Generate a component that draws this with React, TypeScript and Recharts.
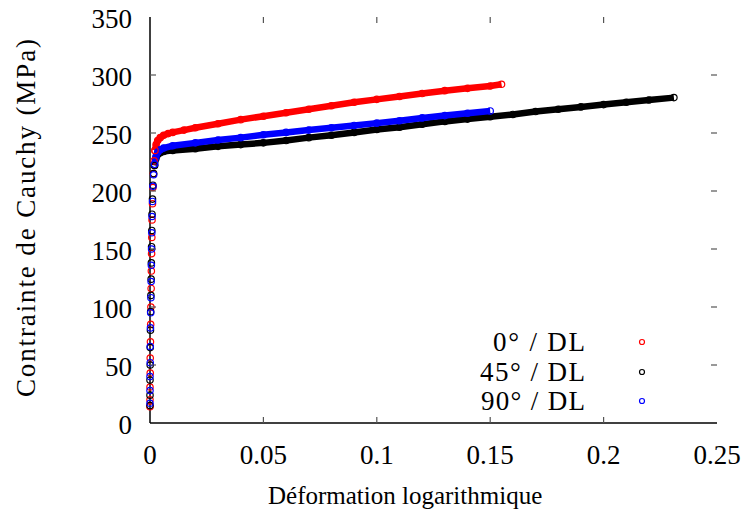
import { ScatterChart, Scatter, XAxis, YAxis } from 'recharts';

type Pt = [number, number];

// strain, Cauchy stress (MPa)
const elastic0: Pt[] = [
  [0, 14], [0, 20], [0, 31], [0.0001, 43], [0.0001, 56], [0.0002, 70], [0.0003, 85], [0.0004, 100],
  [0.0005, 116], [0.0006, 131], [0.0007, 146], [0.0008, 160], [0.0009, 175], [0.0011, 189],
  [0.0013, 203], [0.0015, 215], [0.0018, 226], [0.0022, 235],
];
const plastic0: Pt[] = [
  [0.0022, 235], [0.0027, 240], [0.0034, 243.5], [0.0045, 246], [0.006, 248], [0.008, 249.5],
  [0.01, 250.5], [0.015, 252.5], [0.02, 254.5], [0.03, 258], [0.04, 261.5], [0.05, 264.5],
  [0.06, 267.5], [0.07, 270.5], [0.08, 273.5], [0.09, 276.5], [0.1, 279], [0.11, 281.5],
  [0.12, 284], [0.13, 286.5], [0.14, 288.5], [0.15, 290.5], [0.155, 292],
];
const elastic45: Pt[] = [
  [0, 15], [0, 24], [0, 37], [0.0001, 50], [0.0001, 65], [0.0002, 80], [0.0003, 96], [0.0004, 110],
  [0.0005, 124], [0.0006, 138], [0.0007, 152], [0.0008, 166], [0.0009, 180], [0.0011, 193],
  [0.0013, 205], [0.0016, 215], [0.002, 222],
];
const plastic45: Pt[] = [
  [0.002, 222], [0.0026, 228], [0.0034, 231.5], [0.0045, 233], [0.006, 234], [0.01, 235],
  [0.02, 236.5], [0.03, 238.5], [0.04, 240], [0.05, 241.5], [0.06, 243.5], [0.07, 246],
  [0.08, 248], [0.09, 250.5], [0.1, 253], [0.11, 255], [0.12, 257.5], [0.13, 260], [0.14, 262],
  [0.15, 264], [0.16, 266], [0.17, 268.5], [0.18, 270.5], [0.19, 272.5], [0.2, 274.5],
  [0.21, 276.5], [0.22, 278.5], [0.231, 280.5],
];
const elastic90: Pt[] = [
  [0, 17], [0, 28], [0, 40], [0.0001, 52], [0.0001, 66], [0.0002, 82], [0.0003, 95], [0.0004, 108],
  [0.0005, 122], [0.0006, 136], [0.0007, 150], [0.0008, 164], [0.0009, 178], [0.0011, 191],
  [0.0013, 204], [0.0016, 214], [0.002, 223],
];
const plastic90: Pt[] = [
  [0.002, 223], [0.0026, 229.5], [0.0034, 233.5], [0.0045, 235.5], [0.006, 237], [0.01, 239],
  [0.02, 241.5], [0.03, 244], [0.04, 246], [0.05, 248.5], [0.06, 250.5], [0.07, 252.5],
  [0.08, 254.5], [0.09, 256.5], [0.1, 258.5], [0.11, 260.5], [0.12, 263], [0.13, 265],
  [0.14, 267], [0.15, 269],
];

const xTicks = [0, 0.05, 0.1, 0.15, 0.2, 0.25];
const yTicks = [0, 50, 100, 150, 200, 250, 300, 350];
const xTickLabels = ['0', '0.05', '0.1', '0.15', '0.2', '0.25'];

const series = [
  { name: '0° / DL', color: '#ff0000', elastic: elastic0, plastic: plastic0 },
  { name: '45° / DL', color: '#000000', elastic: elastic45, plastic: plastic45 },
  { name: '90° / DL', color: '#0000ff', elastic: elastic90, plastic: plastic90 },
];

const W = 749;
const H = 518;
const PL = 150;
const PR = 717;
const PT = 17;
const PB = 423;
const FONT = '"Liberation Serif", "Times New Roman", serif';
const FS = 27;
const TICK = '#555';

// only used to place the mirrored tick marks on the frame
const sx = (v: number) => PL + (v / 0.25) * (PR - PL);
const sy = (v: number) => PB - (v / 350) * (PB - PT);

const toObj = (pts: Pt[]) => pts.map(([x, y]) => ({ x, y }));

const ring = (color: string) => (p: any) => (
  <circle cx={p.cx} cy={p.cy} r={3.2} fill="none" stroke={color} strokeWidth={1.2} />
);

function XTick({ x, payload }: any) {
  const i = xTicks.indexOf(payload.value);
  return (
    <text x={x} y={PB + 41} textAnchor="middle" fontFamily={FONT} fontSize={FS} fill="#000">
      {i >= 0 ? xTickLabels[i] : payload.value}
    </text>
  );
}

function YTick({ y, payload }: any) {
  return (
    <text x={PL - 18} y={y + 11} textAnchor="end" fontFamily={FONT} fontSize={FS} fill="#000">
      {payload.value}
    </text>
  );
}

export default function App() {
  const legendY = [342, 372, 401];
  const legendLen = [92, 105, 104];
  return (
    <div style={{ position: 'absolute', left: 0, top: 0, width: W, height: H, background: '#fff' }}>
      <ScatterChart width={W} height={H} margin={{ top: PT, right: W - PR, bottom: 0, left: 0 }}>
        <XAxis
          xAxisId="b"
          type="number"
          dataKey="x"
          domain={[0, 0.25]}
          ticks={xTicks}
          height={H - PB}
          tickLine={false}
          axisLine={{ stroke: '#000', strokeWidth: 1.5 }}
          tick={<XTick />}
        />
        <XAxis
          xAxisId="t"
          orientation="top"
          type="number"
          dataKey="x"
          domain={[0, 0.25]}
          height={0}
          tick={false}
          tickLine={false}
          axisLine={{ stroke: '#000', strokeWidth: 1.5 }}
        />
        <YAxis
          yAxisId="l"
          type="number"
          dataKey="y"
          domain={[0, 350]}
          ticks={yTicks}
          width={PL}
          tickLine={false}
          axisLine={{ stroke: '#000', strokeWidth: 1.5 }}
          tick={<YTick />}
        />
        <YAxis
          yAxisId="r"
          orientation="right"
          type="number"
          dataKey="y"
          domain={[0, 350]}
          width={0}
          tick={false}
          tickLine={false}
          axisLine={{ stroke: '#000', strokeWidth: 1.5 }}
        />
        {series.map((s) => (
          <Scatter
            key={s.name + 'p'}
            xAxisId="b"
            yAxisId="l"
            data={toObj(s.plastic)}
            line={{ stroke: s.color, strokeWidth: 6.5 }}
            lineType="joint"
            shape={ring(s.color)}
            isAnimationActive={false}
          />
        ))}
        {series.map((s) => (
          <Scatter
            key={s.name + 'e'}
            xAxisId="b"
            yAxisId="l"
            data={toObj(s.elastic)}
            shape={ring(s.color)}
            isAnimationActive={false}
          />
        ))}
      </ScatterChart>
      <svg width={W} height={H} style={{ position: 'absolute', left: 0, top: 0, pointerEvents: 'none' }}>
        {xTicks.slice(1, -1).map((t) => (
          <g key={'xt' + t}>
            <line x1={sx(t)} x2={sx(t)} y1={PB} y2={PB - 6} stroke={TICK} strokeWidth={1.2} />
            <line x1={sx(t)} x2={sx(t)} y1={PT} y2={PT + 6} stroke={TICK} strokeWidth={1.2} />
          </g>
        ))}
        {yTicks.slice(1, -1).map((t) => (
          <g key={'yt' + t}>
            <line x1={PL} x2={PL + 6} y1={sy(t)} y2={sy(t)} stroke={TICK} strokeWidth={1.2} />
            <line x1={PR} x2={PR - 6} y1={sy(t)} y2={sy(t)} stroke={TICK} strokeWidth={1.2} />
          </g>
        ))}
        {series.map((s, i) => (
          <g key={s.name}>
            <text
              x={585}
              y={legendY[i] + 9}
              textAnchor="end"
              fontFamily={FONT}
              fontSize={FS}
              fill="#000"
              textLength={legendLen[i]}
              lengthAdjust="spacing"
            >
              {s.name}
            </text>
            <circle cx={642} cy={legendY[i]} r={2.5} fill="none" stroke={s.color} strokeWidth={1.2} />
          </g>
        ))}
        <text
          x={268}
          y={504}
          textAnchor="start"
          fontFamily={FONT}
          fontSize={25}
          fill="#000"
        >
          Déformation logarithmique
        </text>
        <text
          x={0}
          y={0}
          transform="translate(34.5,397) rotate(-90)"
          textAnchor="start"
          fontFamily={FONT}
          fontSize={FS}
          fill="#000"
          textLength={358}
          lengthAdjust="spacing"
        >
          Contrainte de Cauchy (MPa)
        </text>
      </svg>
    </div>
  );
}
